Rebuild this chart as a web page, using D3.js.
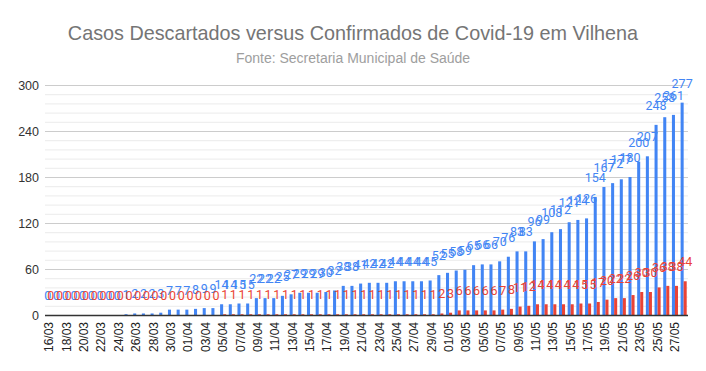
<!DOCTYPE html>
<html>
<head>
<meta charset="utf-8">
<script src="https://cdn.jsdelivr.net/npm/d3@7"></script>
<style>
  body { margin: 0; background: #fff; }
  svg { display: block; }
</style>
</head>
<body>
<div id="chart"></div>
<script>
// Categories: one per day, 16/03 .. 28/05
const dates = [
  "16/03","17/03","18/03","19/03","20/03","21/03","22/03","23/03","24/03","25/03",
  "26/03","27/03","28/03","29/03","30/03","31/03","01/04","02/04","03/04","04/04",
  "05/04","06/04","07/04","08/04","09/04","10/04","11/04","12/04","13/04","14/04",
  "15/04","16/04","17/04","18/04","19/04","20/04","21/04","22/04","23/04","24/04",
  "25/04","26/04","27/04","28/04","29/04","30/04","01/05","02/05","03/05","04/05",
  "05/05","06/05","07/05","08/05","09/05","10/05","11/05","12/05","13/05","14/05",
  "15/05","16/05","17/05","18/05","19/05","20/05","21/05","22/05","23/05","24/05",
  "25/05","26/05","27/05","28/05"
];

// Casos descartados (blue)
const descartados = [
  0, 0, 0, 0, 0, 0, 0, 0, 0, 1,
  2, 2, 2, 3, 7, 7, 7, 8, 9, 9,
  14, 14, 15, 15, 22, 22, 22, 25, 27, 29,
  29, 29, 30, 32, 38, 38, 41, 42, 42, 42,
  44, 44, 44, 44, 45, 52, 55, 58, 59, 65,
  66, 66, 70, 76, 83, 83, 96, 99, 108, 112,
  121, 124, 126, 154, 167, 172, 177, 180, 200, 207,
  248, 258, 261, 277
];

// Casos confirmados (red)
const confirmados = [
  0, 0, 0, 0, 0, 0, 0, 0, 0, 0,
  0, 0, 0, 0, 0, 0, 0, 0, 0, 0,
  1, 1, 1, 1, 1, 1, 1, 1, 1, 1,
  1, 1, 1, 1, 1, 1, 1, 1, 1, 1,
  1, 1, 1, 1, 1, 2, 3, 6, 6, 6,
  6, 6, 7, 8, 11, 12, 14, 14, 14, 14,
  14, 15, 15, 17, 20, 22, 22, 26, 30, 30,
  36, 38, 38, 44
];

const yTicks = [0, 60, 120, 180, 240, 300];
const yMinor = d3.range(0, 301, 12);

const width = 706, height = 371;
const margin = { left: 45, right: 18, top: 85, bottom: 56 };

const series = [
  { key: "Descartados", values: descartados, color: "#4285f4" },
  { key: "Confirmados", values: confirmados, color: "#ea4335" }
];

const svg = d3.select("#chart").append("svg")
    .attr("width", width)
    .attr("height", height)
    .style("font-family", "Arial, 'Liberation Sans', sans-serif");

const x = d3.scaleBand()
    .domain(dates)
    .range([margin.left, width - margin.right])
    .paddingInner(0.3)
    .paddingOuter(0.15);

const xs = d3.scaleBand()
    .domain(series.map(s => s.key))
    .range([0, x.bandwidth()]);

const y = d3.scaleLinear()
    .domain([0, 300])
    .range([height - margin.bottom, margin.top]);

// Title
svg.append("text")
    .attr("x", width / 2)
    .attr("y", 40)
    .attr("text-anchor", "middle")
    .style("font-size", "19.8px")
    .style("fill", "#757575")
    .text("Casos Descartados versus Confirmados de Covid-19 em Vilhena");

svg.append("text")
    .attr("x", width / 2)
    .attr("y", 63)
    .attr("text-anchor", "middle")
    .style("font-size", "14px")
    .style("fill", "#9e9e9e")
    .text("Fonte: Secretaria Municipal de Saúde");

// Gridlines
const grid = svg.append("g");
grid.selectAll("line.minor")
    .data(yMinor.filter(v => v % 60 !== 0))
    .enter().append("line")
    .attr("class", "minor")
    .attr("x1", margin.left)
    .attr("x2", width - margin.right)
    .attr("y1", d => y(d) + 0.5)
    .attr("y2", d => y(d) + 0.5)
    .style("stroke", "#ebebeb");

grid.selectAll("line.major")
    .data(yTicks.filter(v => v > 0))
    .enter().append("line")
    .attr("class", "major")
    .attr("x1", margin.left)
    .attr("x2", width - margin.right)
    .attr("y1", d => y(d) + 0.5)
    .attr("y2", d => y(d) + 0.5)
    .style("stroke", "#cccccc");

// Y axis labels
svg.append("g")
    .attr("transform", `translate(${margin.left - 6},0)`)
    .call(d3.axisLeft(y).tickValues(yTicks).tickSize(0).tickPadding(0))
    .call(g => g.select(".domain").remove())
    .call(g => g.selectAll("text")
        .style("font-size", "12.5px")
        .style("font-family", "Arial, 'Liberation Sans', sans-serif")
        .style("fill", "#333"));

// Bars
const groups = svg.append("g").selectAll("g")
    .data(series)
    .enter().append("g")
    .style("fill", d => d.color);

groups.selectAll("rect")
    .data(s => s.values.map((v, i) => ({ key: s.key, v: v, date: dates[i] })))
    .enter().append("rect")
    .attr("x", d => x(d.date) + xs(d.key))
    .attr("width", xs.bandwidth())
    .attr("y", d => y(d.v))
    .attr("height", d => y(0) - y(d.v));

// Baseline
svg.append("line")
    .attr("x1", margin.left)
    .attr("x2", width - margin.right)
    .attr("y1", y(0) + 0.5)
    .attr("y2", y(0) + 0.5)
    .style("stroke", "#333")
    .style("stroke-width", 1.3);

// Data labels
series.forEach(s => {
  svg.append("g").selectAll("text")
      .data(s.values.map((v, i) => ({ v: v, date: dates[i] })))
      .enter().append("text")
      .attr("x", d => x(d.date) + xs(s.key) + xs.bandwidth() / 2)
      .attr("y", d => y(d.v) - 15)
      .attr("text-anchor", "middle")
      .style("font-family", "Roboto, Arial, sans-serif")
      .style("font-size", "12.5px")
      .style("fill", s.color)
      .text(d => d.v);
});

// X axis labels (every other day)
svg.append("g")
    .selectAll("text")
    .data(dates.filter((d, i) => i % 2 === 0))
    .enter().append("text")
    .attr("transform", d => `translate(${x(d) + x.bandwidth() / 2 + 4},${y(0) + 7}) rotate(-90)`)
    .attr("text-anchor", "end")
    .style("font-size", "12px")
    .style("fill", "#222")
    .text(d => d);
</script>
</body>
</html>
